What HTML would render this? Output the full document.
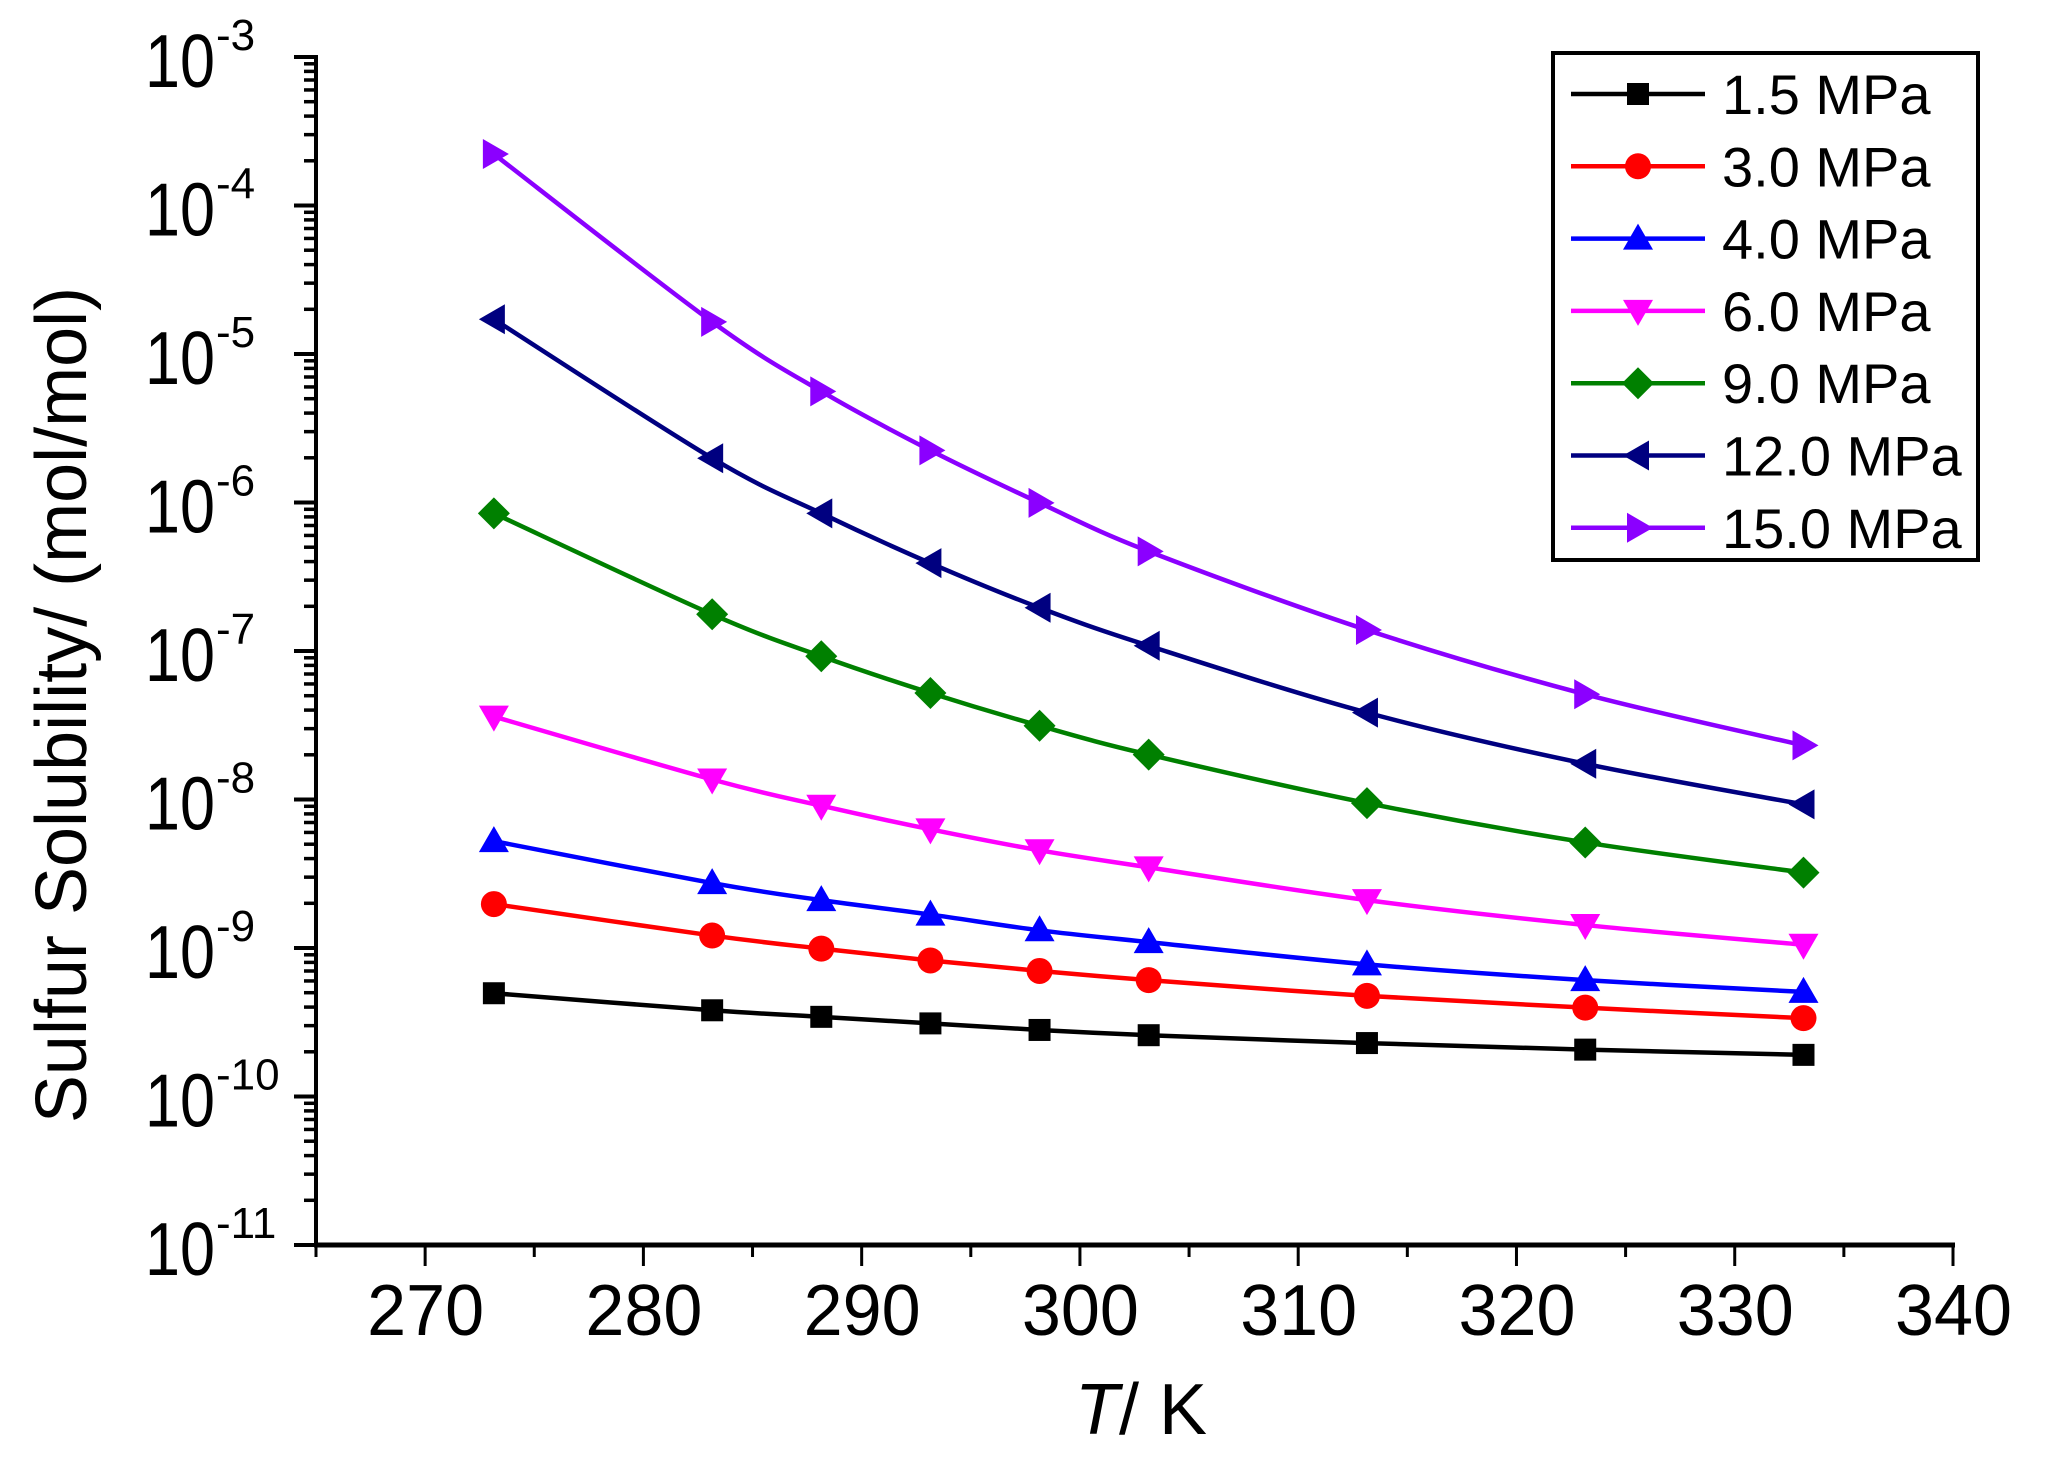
<!DOCTYPE html>
<html><head><meta charset="utf-8"><style>
html,body{margin:0;padding:0;background:#fff;}
svg{display:block;font-family:"Liberation Sans",Arial,sans-serif;}
</style></head><body>
<svg id="s" width="2051" height="1467" viewBox="0 0 2051 1467" xmlns="http://www.w3.org/2000/svg">
<g id="axes"></g>
<g id="data"></g>
<rect x="1553" y="53" width="425" height="507" fill="#fff" stroke="#000" stroke-width="4"/>
<g id="leg" font-size="56"></g>
<text transform="translate(86,705) rotate(-90)" text-anchor="middle" font-size="72">Sulfur Solubility/ (mol/mol)</text>
<text x="1141" y="1434" text-anchor="middle" font-size="72"><tspan font-style="italic">T</tspan>/ K</text>
</svg>
<script>
var NS="http://www.w3.org/2000/svg";
function el(p,t,a,txt){var e=document.createElementNS(NS,t);for(var k in a)e.setAttribute(k,a[k]);if(txt!=null)e.textContent=txt;p.appendChild(e);return e;}
var L=316,R=1953,T=57,B=1245;
function X(t){return L+(t-265)*(R-L)/75;}
function Y(lg){return T+(-3-lg)*(B-T)/8;}
var ax=document.getElementById('axes');
el(ax,'line',{x1:L,y1:T-2,x2:L,y2:B+2,stroke:'#000','stroke-width':4});
el(ax,'line',{x1:L-2,y1:B,x2:R+2,y2:B,stroke:'#000','stroke-width':5});
for(var t=265;t<=340;t+=5){var mj=(t%10==0);el(ax,'line',{x1:X(t),y1:B,x2:X(t),y2:B+(mj?21:12),stroke:'#000','stroke-width':3});
 if(mj)el(ax,'text',{x:X(t)-58,y:1335,'font-size':72,textLength:117,lengthAdjust:'spacingAndGlyphs'},String(t));}
for(var d=-11;d<=-3;d++){var y=Y(d);el(ax,'line',{x1:L-22,y1:y,x2:L,y2:y,stroke:'#000','stroke-width':4});
 el(ax,'text',{x:145,y:y+30,'font-size':75,textLength:70,lengthAdjust:'spacingAndGlyphs'},'10');
 el(ax,'text',{x:216,y:y-7,'font-size':44},String(d));
 if(d<-3)for(var m=2;m<=9;m++){var yy=Y(d+Math.log10(m));el(ax,'line',{x1:L-12,y1:yy,x2:L,y2:yy,stroke:'#000','stroke-width':3.5});}}
var Ts=[273.15,283.15,288.15,293.15,298.15,303.15,313.15,323.15,333.15];
function dy(v){return 57+(v-45)/113.25*148.5;}
var S=[
['#000','sq',[759,772,777,782,787,791,797,802,806],'1.5 MPa'],
['#ff0000','ci',[691,715,725,734,742,749,761,770,778],'3.0 MPa'],
['#0000ff','up',[643,675,688,699,711,720,737,749,758],'4.0 MPa'],
['#ff00ff','dn',[548,596,616,634,650,663,688,707,722],'6.0 MPa'],
['#008000','di',[393,470,502,530,555,577,614,644,667],'9.0 MPa'],
['#000080','lf',[245,351,393,431,465,494,545,584,615],'12.0 MPa'],
['#8b00ff','rt',[119,247,300,345,385,422,482,531,570],'15.0 MPa']];
function marker(g,type,x,y,c){var a={fill:c};
 if(type=='sq'){a.x=x-11;a.y=y-11;a.width=22;a.height=22;el(g,'rect',a);}
 else if(type=='ci'){a.cx=x;a.cy=y;a.r=13;el(g,'circle',a);}
 else{var p;
  if(type=='up')p=[[x,y-15],[x+15,y+11],[x-15,y+11]];
  if(type=='dn')p=[[x,y+15],[x+15,y-11],[x-15,y-11]];
  if(type=='lf')p=[[x-15,y],[x+11,y-15],[x+11,y+15]];
  if(type=='rt')p=[[x+15,y],[x-11,y-15],[x-11,y+15]];
  if(type=='di')p=[[x,y-16],[x+16,y],[x,y+16],[x-16,y]];
  a.points=p.map(function(q){return q.join(',')}).join(' ');el(g,'polygon',a);}}
var g=document.getElementById('data');
S.forEach(function(s){var pts=Ts.map(function(t,i){return [X(t),dy(s[2][i])];});
 var d='M'+pts[0][0]+','+pts[0][1];
 for(var i=0;i<pts.length-1;i++){var p0=pts[i-1]||pts[i],p1=pts[i],p2=pts[i+1],p3=pts[i+2]||p2;
  d+=' C'+(p1[0]+(p2[0]-p0[0])/6)+','+(p1[1]+(p2[1]-p0[1])/6)+' '+(p2[0]-(p3[0]-p1[0])/6)+','+(p2[1]-(p3[1]-p1[1])/6)+' '+p2[0]+','+p2[1];}
 el(g,'path',{d:d,fill:'none',stroke:s[0],'stroke-width':4.5});
 pts.forEach(function(p){marker(g,s[1],p[0],p[1],s[0]);});});
var lg=document.getElementById('leg');
S.forEach(function(s,i){var y=94+i*72.3;
 el(lg,'line',{x1:1571,y1:y,x2:1705,y2:y,stroke:s[0],'stroke-width':4.5});
 marker(lg,s[1],1638,y,s[0]);
 el(lg,'text',{x:1722,y:y+20},s[3]);});
</script>
</body></html>
